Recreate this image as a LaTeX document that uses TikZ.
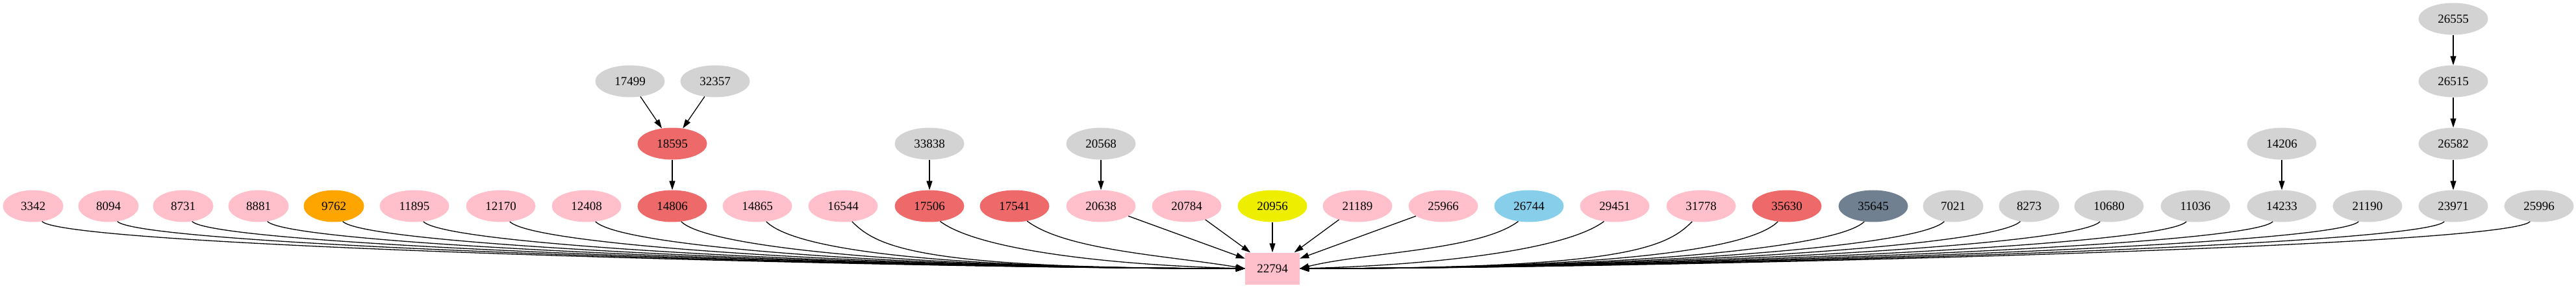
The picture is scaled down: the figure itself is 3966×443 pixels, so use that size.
\documentclass[tikz,border=0pt]{standalone}
\usepackage{fontspec}
\setmainfont{Liberation Serif}
\usetikzlibrary{shapes.geometric,arrows.meta}
\definecolor{cpink}{HTML}{FFC0CB}
\definecolor{cred}{HTML}{EE6A6A}
\definecolor{corange}{HTML}{FFA500}
\definecolor{cyellow}{HTML}{EEEE00}
\definecolor{cblue}{HTML}{87CEEB}
\definecolor{cslate}{HTML}{708090}
\definecolor{cgray}{HTML}{D3D3D3}
\tikzset{
  nd/.style={ellipse,fill=#1,minimum height=49pt,minimum width=107pt,inner sep=0pt,font=\fontsize{19}{22}\selectfont},
  ns/.style={nd=#1,minimum width=93pt},
  hubbox/.style={rectangle,fill=cpink,minimum height=49pt,minimum width=84pt,inner sep=0pt,font=\fontsize{19}{22}\selectfont},
  arr/.style={line width=1.3pt,-{Triangle[length=14pt,width=9pt]}}
}
\begin{document}
\begin{tikzpicture}[x=1pt,y=-1pt]
\useasboundingbox (0,0) rectangle (3966,443);
\node[hubbox] (hub) at (1959,413) {22794};
% bottom row
\foreach \t/\x/\c/\s in {3342/51/cpink/ns,8094/167/cpink/ns,8731/282/cpink/ns,8881/398/cpink/ns,9762/514/corange/ns,11895/638/cpink/nd,12170/771/cpink/nd,12408/903/cpink/nd,14806/1035/cred/nd,14865/1166/cpink/nd,16544/1298/cpink/nd,17506/1431/cred/nd,17541/1562/cred/nd,20638/1695/cpink/nd,20784/1827/cpink/nd,20956/1959/cyellow/nd,21189/2090/cpink/nd,25966/2222/cpink/nd,26744/2354/cblue/nd,29451/2486/cpink/nd,31778/2619/cpink/nd,35630/2751/cred/nd,35645/2884/cslate/nd,7021/3007/cgray/ns,8273/3124/cgray/ns,10680/3247/cgray/nd,11036/3380/cgray/nd,14233/3513/cgray/nd,21190/3645/cgray/nd,23971/3777/cgray/nd,25996/3909/cgray/nd}
  \node[\s=\c] (n\t) at (\x,317) {\t};
% upper nodes
\node[nd=cred] (n18595) at (1035,221) {18595};
\node[nd=cgray] (n17499) at (970,125) {17499};
\node[nd=cgray] (n32357) at (1101,125) {32357};
\node[nd=cgray] (n33838) at (1431,221) {33838};
\node[nd=cgray] (n20568) at (1695,221) {20568};
\node[nd=cgray] (n14206) at (3513,221) {14206};
\node[nd=cgray] (n26582) at (3777,221) {26582};
\node[nd=cgray] (n26515) at (3777,125) {26515};
\node[nd=cgray] (n26555) at (3777,29) {26555};
% vertical edges
\draw[arr] (n17499) -- (n18595);
\draw[arr] (n32357) -- (n18595);
\draw[arr] (n18595) -- (n14806);
\draw[arr] (n33838) -- (n17506);
\draw[arr] (n20568) -- (n20638);
\draw[arr] (n14206) -- (n14233);
\draw[arr] (n26555) -- (n26515);
\draw[arr] (n26515) -- (n26582);
\draw[arr] (n26582) -- (n23971);
% edges to hub
\foreach \t in {3342,8094,8731,8881,9762,11895,12170,12408,14806,14865,16544}
  \draw[arr] (n\t.-60) .. controls +(40,40) and +(-500,0) .. (hub.west);
\draw[arr] (n17506.-55) .. controls +(60,45) and +(-200,-5) .. (hub.west);
\draw[arr] (n17541.-50) .. controls +(60,45) and +(-120,-20) .. (hub.west);
\draw[arr] (n20638) -- (hub);
\draw[arr] (n20784) -- (hub);
\draw[arr] (n20956) -- (hub);
\draw[arr] (n21189) -- (hub);
\draw[arr] (n25966) -- (hub);
\draw[arr] (n26744.-125) .. controls +(-60,45) and +(100,-25) .. (hub.east);
\draw[arr] (n29451.-125) .. controls +(-60,45) and +(200,-5) .. (hub.east);
\foreach \t in {31778,35630,35645,7021,8273,10680,11036,14233,21190,23971,25996}
  \draw[arr] (n\t.-120) .. controls +(-40,40) and +(500,0) .. (hub.east);
\end{tikzpicture}
\end{document}
